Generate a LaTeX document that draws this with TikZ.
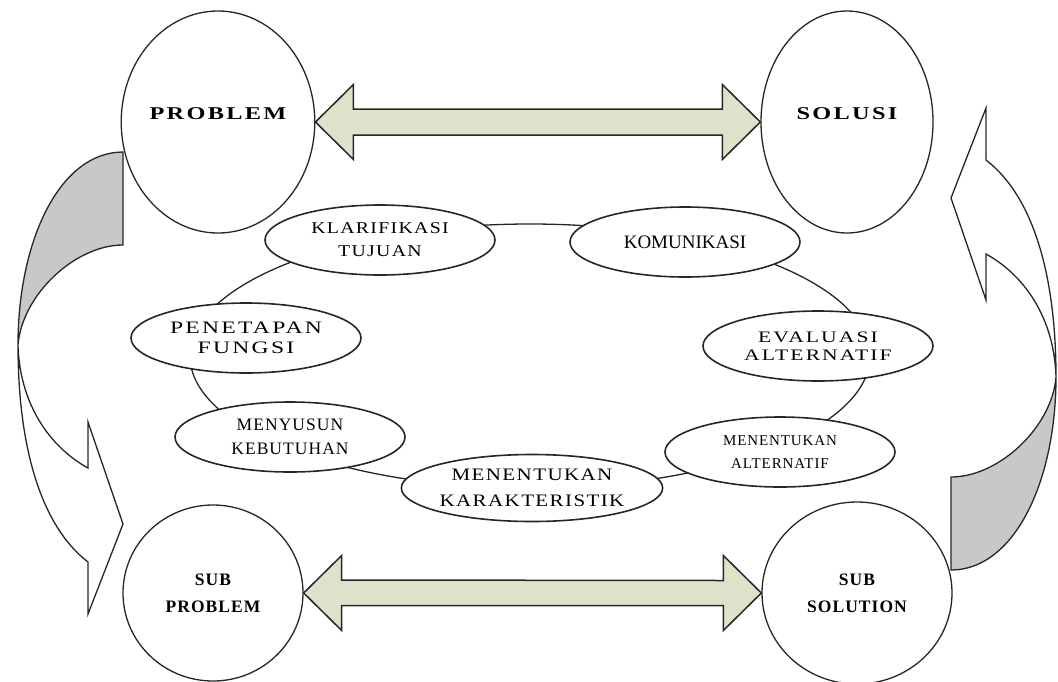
\documentclass[tikz,border=0pt]{standalone}
\usepackage{fontspec}
\setmainfont{Liberation Serif}
\newfontfamily\tightfont[LetterSpace=6]{Liberation Serif}
\newfontfamily\midfont[FakeStretch=1.2,LetterSpace=8]{Liberation Serif}
\newfontfamily\loosefont[FakeStretch=1.35,LetterSpace=13]{Liberation Serif}
\usetikzlibrary{shapes.geometric,calc}
\definecolor{ArrowFill}{HTML}{DFE1CB}
\definecolor{BandGray}{HTML}{C8C8C8}
\definecolor{EdgeDark}{HTML}{262626}

\begin{document}
\begin{tikzpicture}[x=1pt,y=-1pt]
    \tikzset{pole/.style={ellipse,draw=EdgeDark,line width=1.3pt,fill=white,inner sep=0pt,align=center},
      stage/.style={ellipse,draw=EdgeDark,line width=1.6pt,fill=white,minimum width=230,
        minimum height=70,inner sep=0pt,align=center},
      duo/.style={draw=EdgeDark,line width=1.5pt,fill=ArrowFill,line join=miter},
      band/.style={draw=EdgeDark,line width=1.3pt,line join=miter},
      loopband/.pic={
        \begin{scope}[shift={(-537,-361)}]
        \draw[band,fill=white] (18,345) .. controls (18,445) and (40,525) .. (88,562) -- (88,614)
          -- (123,524) -- (88,422) -- (88,468) .. controls (55,450) and (20,410) .. (18,345) -- cycle;
        \draw[band,fill=BandGray] (123,152) -- (123,245) .. controls (75,245) and (22,295) .. (18,345)
          .. controls (18,240) and (60,152) .. (123,152) -- cycle;
        \end{scope}}}
    \useasboundingbox (0,0) rectangle (1058,681);
    % cycle of design steps
    \node[ellipse,draw=EdgeDark,line width=1.3pt,minimum width=680,minimum height=264] (ring) at (530,356) {};
    \node[stage,font=\midfont\fontsize{16.5}{23}\selectfont] (klar) at (380,240) {KLARIFIKASI\\TUJUAN};
    \node[stage,font=\fontsize{19}{23}\selectfont] (komu) at (685,242) {KOMUNIKASI};
    \node[stage,font=\loosefont\fontsize{17.5}{20}\selectfont] (pene) at (246,338) {PENETAPAN\\FUNGSI};
    \node[stage,font=\loosefont\fontsize{16}{18}\selectfont] (eval) at (818,346) {EVALUASI\\ALTERNATIF};
    \node[stage,font=\tightfont\fontsize{17.5}{23.5}\selectfont] (meny) at (290,437) {MENYUSUN\\KEBUTUHAN};
    \node[stage,font=\tightfont\fontsize{15}{23}\selectfont] (ment) at (780,452) {MENENTUKAN\\ALTERNATIF};
    \node[stage,minimum height=67,font=\midfont\fontsize{17.5}{26}\selectfont] (kara) at (532,488) {MENENTUKAN\\KARAKTERISTIK};
    % problem and solution
    \node[pole,minimum width=170,minimum height=222,text height=12pt,text depth=18pt,
      font=\loosefont\bfseries\fontsize{18}{22}\selectfont] (prob) at (218,122) {PROBLEM};
    \node[pole,minimum width=172,minimum height=222,text height=12pt,text depth=18pt,
      font=\loosefont\bfseries\fontsize{18}{22}\selectfont] (sol) at (847,122) {SOLUSI};
    \node[pole,minimum width=180,minimum height=176,font=\tightfont\bfseries\fontsize{17.5}{27}\selectfont] (subp) at (213,593) {SUB\\PROBLEM};
    \node[pole,minimum width=190,minimum height=182,font=\tightfont\bfseries\fontsize{17.5}{27}\selectfont] (subs) at (857,593) {SUB\\SOLUTION};
    \draw[duo] (prob.east) -- ++(38,-37.5) -- ++(0,24.5) -- ($(sol.west)+(-38,-13)$) -- ++(0,-24.5) -- (sol.west)
      -- ++(-38,37.5) -- ++(0,-24.5) -- ($(prob.east)+(38,13)$) -- ++(0,24.5) -- cycle;
    \draw[duo] (subp.east) -- ++(38,-37.5) -- ++(0,24.5) -- ($(subs.west)+(-38,-12.5)$) -- ++(0,-25) -- (subs.west)
      -- ++(-38,37.5) -- ++(0,-25) -- ($(subp.east)+(38,12.5)$) -- ++(0,25) -- cycle;
    % turning arrows at the sides
    \pic at (537,361) {loopband};
    \pic[rotate=180] at (537,361) {loopband};
  \end{tikzpicture}
\end{document}
